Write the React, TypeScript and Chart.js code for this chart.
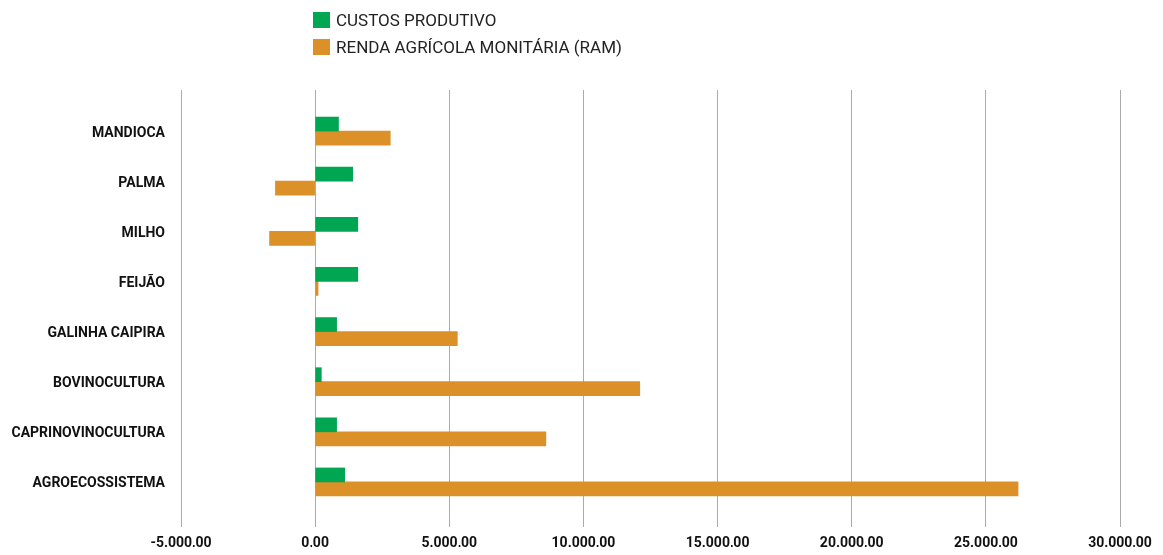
import React, { useEffect, useRef } from 'react';
import { Chart, registerables } from 'chart.js';

Chart.register(...registerables);

const categories = [
  'MANDIOCA',
  'PALMA',
  'MILHO',
  'FEIJÃO',
  'GALINHA CAIPIRA',
  'BOVINOCULTURA',
  'CAPRINOVINOCULTURA',
  'AGROECOSSISTEMA',
];
const custosProdutivo = [870, 1400, 1590, 1590, 800, 230, 800, 1100];
const rendaAgricola = [2800, -1480, -1700, 110, 5300, 12100, 8600, 26200];
const xTickValues = [-5000, 0, 5000, 10000, 15000, 20000, 25000, 30000];
const seriesNames = ['CUSTOS PRODUTIVO', 'RENDA AGRÍCOLA MONITÁRIA (RAM)'];
const seriesColors = ['#00A651', '#DB9128'];

function fmt(v: number): string {
  const neg = v < 0;
  const abs = Math.abs(Math.round(v));
  const s = String(abs).replace(/\B(?=(\d{3})+(?!\d))/g, '.');
  return (neg ? '-' : '') + s + ',00';
}

const GRID = '#ababab';

export default function App() {
  const ref = useRef<HTMLCanvasElement | null>(null);

  useEffect(() => {
    if (!ref.current) return;
    Chart.defaults.font.family = 'Roboto';
    const setTicks = (s: any) => {
      s.ticks = xTickValues.map((v) => ({ value: v }));
    };
    const chart = new Chart(ref.current, {
      type: 'bar',
      data: {
        labels: categories,
        datasets: [
          {
            label: seriesNames[0],
            data: custosProdutivo,
            backgroundColor: seriesColors[0],
            borderWidth: 0,
            barThickness: 14,
          },
          {
            label: seriesNames[1],
            data: rendaAgricola,
            backgroundColor: seriesColors[1],
            borderWidth: 0,
            barThickness: 14,
          },
        ],
      },
      options: {
        indexAxis: 'y',
        animation: false,
        responsive: true,
        maintainAspectRatio: false,
        layout: { padding: { top: 82, bottom: 8, left: 0, right: 35 } },
        plugins: { legend: { display: false }, tooltip: { enabled: false } },
        scales: {
          x: {
            type: 'linear',
            position: 'bottom',
            min: -5000,
            max: 30000,
            afterBuildTicks: setTicks,
            afterFit: (s: any) => {
              s.height = 40;
              s.paddingLeft = 0;
              s.paddingRight = 0;
            },
            grid: {
              color: GRID,
              tickColor: GRID,
              lineWidth: 1,
              drawTicks: true,
              tickLength: 20,
            },
            border: { display: false },
            ticks: {
              autoSkip: false,
              maxRotation: 0,
              padding: 8,
              color: '#111',
              font: { family: 'Roboto', size: 14, weight: 'bold' },
              callback: (v: any) => fmt(Number(v)),
            },
          },
          x2: {
            type: 'linear',
            position: 'top',
            min: -5000,
            max: 30000,
            afterBuildTicks: setTicks,
            afterFit: (s: any) => {
              s.height = 16;
              s.paddingLeft = 0;
              s.paddingRight = 0;
            },
            grid: {
              color: GRID,
              tickColor: GRID,
              lineWidth: 1,
              drawOnChartArea: false,
              drawTicks: true,
              tickLength: 16,
            },
            border: { display: false },
            ticks: { display: false },
          },
          y: {
            type: 'category',
            position: 'left',
            afterFit: (s: any) => {
              s.width = 173;
            },
            grid: { display: false, drawTicks: false },
            border: { display: false },
            ticks: {
              padding: 16,
              labelOffset: 2,
              color: '#111',
              font: { family: 'Roboto', size: 14, weight: 'bold' },
            },
          },
        },
      },
    } as any);
    return () => chart.destroy();
  }, []);

  return (
    <div style={{ position: 'relative', width: 1147, height: 547 }}>
      <canvas ref={ref} />
      <div
        style={{
          position: 'absolute',
          left: 305,
          top: -1,
          fontFamily: 'Roboto',
          fontSize: 17,
          color: '#222',
          lineHeight: '26px',
        }}
      >
        {seriesNames.map((n, i) => (
          <div key={n} style={{ display: 'flex', alignItems: 'center', height: 26.5 }}>
            <span
              style={{
                display: 'inline-block',
                width: 17,
                height: 16,
                background: seriesColors[i],
                marginRight: 6,
              }}
            />
            <span>{n}</span>
          </div>
        ))}
      </div>
    </div>
  );
}
